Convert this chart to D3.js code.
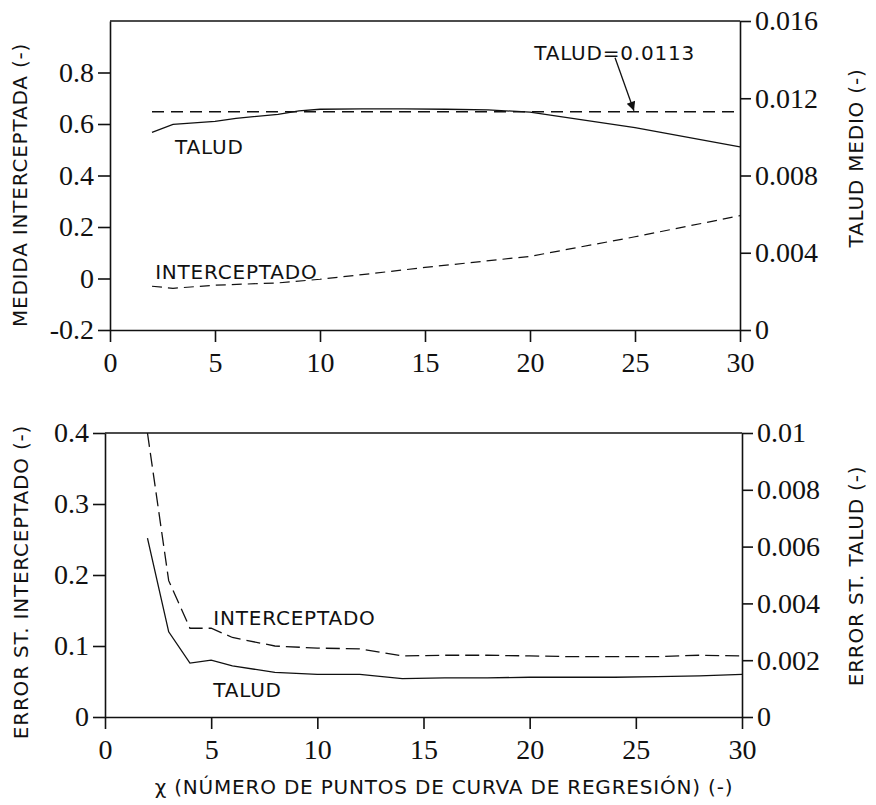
<!DOCTYPE html>
<html>
<head>
<meta charset="utf-8">
<script src="https://cdn.jsdelivr.net/npm/d3@7"></script>
<style>
    body { margin: 0; background: #fff; }
    svg { display: block; }
    .tick text { font-family: "Liberation Serif", "Times New Roman", "DejaVu Serif", serif; }
    .lbl { font-family: "DejaVu Sans", Verdana, sans-serif; letter-spacing: 0.8px; }
</style>
</head>
<body>
<svg id="canvas" width="876" height="805"></svg>
<script>
// ---- data ----
const xTicks = [0, 5, 10, 15, 20, 25, 30];

// upper panel
const topLeftTicks = [-0.2, 0, 0.2, 0.4, 0.6, 0.8];
const topRightTicks = [0, 0.004, 0.008, 0.012, 0.016];
const taludX = [2, 3, 5, 6, 8, 9, 10, 12, 14, 16, 18, 20, 25, 30];
const taludMedio = [0.01023, 0.01065, 0.0108, 0.01096, 0.01117, 0.01135, 0.01143, 0.01145, 0.01145, 0.01143, 0.0114, 0.01128, 0.01048, 0.00948];
const taludConst = 0.0113;
const intercX = [2, 3, 5, 8, 10, 12, 15, 20, 25, 30];
const intercMedio = [-0.03, -0.038, -0.026, -0.017, -0.003, 0.015, 0.043, 0.086, 0.162, 0.244];

// lower panel
const botLeftTicks = [0, 0.1, 0.2, 0.3, 0.4];
const botRightTicks = [0, 0.002, 0.004, 0.006, 0.008, 0.01];
const errX = [2, 3, 4, 5, 6, 8, 10, 12, 14, 16, 18, 20, 22, 24, 26, 28, 30];
const errInterc = [0.4, 0.192, 0.125, 0.125, 0.112, 0.1, 0.097, 0.096, 0.086, 0.087, 0.087, 0.086, 0.085, 0.085, 0.085, 0.087, 0.086];
const errTalud = [0.0063, 0.003, 0.0019, 0.002, 0.0018, 0.00157, 0.0015, 0.0015, 0.00135, 0.00138, 0.00138, 0.0014, 0.0014, 0.0014, 0.00142, 0.00145, 0.0015];

const xTitle = "\u03c7 (NÚMERO DE PUNTOS DE CURVA DE REGRESIÓN) (-)";

const fmt = v => v === 0 ? "0" : String(v);

class DualAxisChart {
    constructor(canvas, box, leftDomain, rightDomain) {
        this.canvas = canvas;
        this.box = box;
        this.leftDomain = leftDomain;
        this.rightDomain = rightDomain;
    }

    graphSetup() {
        this.graph = this.canvas.append("g");
    }

    graphScales() {
        this.x = d3.scaleLinear().domain([0, 30]).range([this.box.left, this.box.right]);
        this.yL = d3.scaleLinear().domain(this.leftDomain).range([this.box.bottom, this.box.top]);
        this.yR = d3.scaleLinear().domain(this.rightDomain).range([this.box.bottom, this.box.top]);
    }

    styleAxis(g) {
        g.attr("font-family", null).attr("font-size", null);
        g.selectAll("path, line").attr("stroke", "#111").attr("stroke-width", 1.6);
        g.selectAll("text")
            .style("font-size", "28px")
            .attr("fill", "#111");
    }

    graphAxes(leftTicks, rightTicks) {
        const xAxis = d3.axisBottom(this.x).tickValues(xTicks).tickFormat(fmt)
            .tickSize(12).tickSizeOuter(0).tickPadding(10);
        const lAxis = d3.axisLeft(this.yL).tickValues(leftTicks).tickFormat(fmt)
            .tickSize(12).tickSizeOuter(0).tickPadding(4);
        const rAxis = d3.axisRight(this.yR).tickValues(rightTicks).tickFormat(fmt)
            .tickSize(11).tickSizeOuter(0).tickPadding(4);

        this.graph.append("g")
            .attr("transform", `translate(0, ${this.box.bottom})`)
            .call(xAxis).call(g => this.styleAxis(g));
        this.graph.append("g")
            .attr("transform", `translate(${this.box.left}, 0)`)
            .call(lAxis).call(g => this.styleAxis(g));
        this.graph.append("g")
            .attr("transform", `translate(${this.box.right}, 0)`)
            .call(rAxis).call(g => this.styleAxis(g));

        // top frame line
        this.graph.append("line")
            .attr("x1", this.box.left).attr("x2", this.box.right)
            .attr("y1", this.box.top).attr("y2", this.box.top)
            .attr("stroke", "#111").attr("stroke-width", 1.6);
    }

    drawLine(xs, ys, scale, dash, width) {
        const line = d3.line()
            .x(d => this.x(d[0]))
            .y(d => scale(d[1]));
        this.graph.append("path")
            .datum(xs.map((v, i) => [v, ys[i]]))
            .attr("d", line)
            .attr("fill", "none")
            .attr("stroke", "#111")
            .attr("stroke-width", width)
            .attr("stroke-dasharray", dash);
    }

    label(text, xv, yv) {
        this.graph.append("text")
            .attr("class", "lbl")
            .text(text)
            .attr("x", this.x(xv))
            .attr("y", this.yL(yv))
            .attr("font-size", 20)
            .attr("fill", "#111");
    }

    axisTitle(text, cx, cy) {
        this.graph.append("text")
            .attr("class", "lbl")
            .text(text)
            .attr("text-anchor", "middle")
            .attr("transform", `translate(${cx}, ${cy}) rotate(-90)`)
            .attr("font-size", 20)
            .attr("fill", "#111");
    }
}

const canvas = d3.select("#canvas");

// ---- upper panel ----
const upper = new DualAxisChart(canvas, { left: 110, right: 740, top: 21, bottom: 330 }, [-0.2, 1.0], [0, 0.016]);
upper.graphSetup();
upper.graphScales();
upper.graphAxes(topLeftTicks, topRightTicks);
upper.drawLine(taludX, taludMedio, upper.yR, null, 1.3);
upper.drawLine([2, 30], [taludConst, taludConst], upper.yR, "12,7", 1.5);
upper.drawLine(intercX, intercMedio, upper.yL, "10,6", 1.2);
upper.label("TALUD", 3.1, 0.485);
upper.label("INTERCEPTADO", 2.15, 0.0);
upper.label("TALUD=0.0113", 20.2, 0.85);
upper.axisTitle("MEDIDA INTERCEPTADA (-)", 27, 185);
upper.axisTitle("TALUD MEDIO (-)", 863, 158);

// arrow to the constant line
canvas.append("defs").append("marker")
    .attr("id", "head")
    .attr("viewBox", "0 0 10 10")
    .attr("refX", 10).attr("refY", 5)
    .attr("markerWidth", 12).attr("markerHeight", 9)
    .attr("markerUnits", "userSpaceOnUse")
    .attr("orient", "auto")
    .append("path")
    .attr("d", "M0,0 L10,5 L0,10 Z")
    .attr("fill", "#111");
upper.graph.append("line")
    .attr("x1", upper.x(24.05)).attr("y1", upper.yR(0.0141))
    .attr("x2", upper.x(24.95)).attr("y2", upper.yR(taludConst) - 1)
    .attr("stroke", "#111").attr("stroke-width", 1.3)
    .attr("marker-end", "url(#head)");

// ---- lower panel ----
const lower = new DualAxisChart(canvas, { left: 105, right: 742, top: 433, bottom: 717 }, [0, 0.4], [0, 0.01]);
lower.graphSetup();
lower.graphScales();
lower.graphAxes(botLeftTicks, botRightTicks);
lower.drawLine(errX, errInterc, lower.yL, "14,6", 1.3);
lower.drawLine(errX, errTalud, lower.yR, null, 1.3);
lower.label("INTERCEPTADO", 5.1, 0.13);
lower.label("TALUD", 5.1, 0.028);
lower.axisTitle("ERROR ST. INTERCEPTADO (-)", 28, 582);
lower.axisTitle("ERROR ST. TALUD (-)", 863, 576);

canvas.append("text")
    .attr("class", "lbl")
    .text(xTitle)
    .attr("x", 444)
    .attr("y", 794)
    .attr("text-anchor", "middle")
    .attr("font-size", 20)
    .attr("fill", "#111");
</script>
</body>
</html>
